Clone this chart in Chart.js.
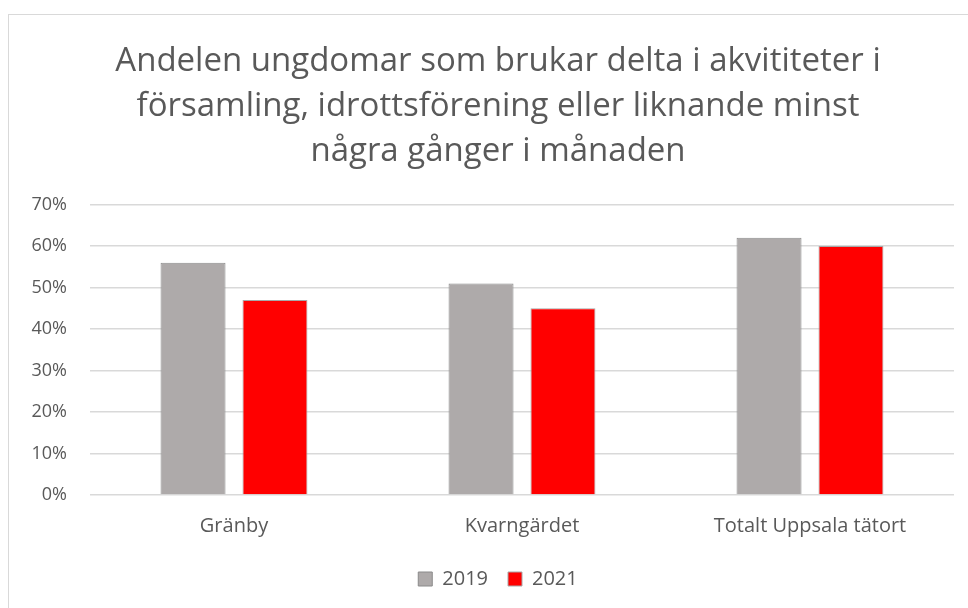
<!DOCTYPE html>
<html>
<head>
<meta charset="utf-8">
<script src="https://cdn.jsdelivr.net/npm/chart.js@4"></script>
<style>
  body { margin: 0; background: #fff; }
  #wrap { position: relative; width: 968px; height: 608px; }
  #frame { position: absolute; left: 8px; top: 14px; width: 980px; height: 620px;
           border: 1.5px solid #d9d9d9; pointer-events: none; }
</style>
</head>
<body>
<div id="wrap">
  <canvas id="chart"></canvas>
  <div id="frame"></div>
</div>
<script>
"use strict";

// data
const categories = ["Gränby", "Kvarngärdet", "Totalt Uppsala tätort"];
const values2019 = [56, 51, 62];
const values2021 = [47, 45, 60];
const yTicks = [0, 10, 20, 30, 40, 50, 60, 70];

const textColor = "#595959";
const fontFamily = "'Open Sans', 'Noto Sans', sans-serif";

new Chart(document.querySelector("#chart"), {
  type: "bar",
  data: {
    labels: categories,
    datasets: [{
      label: "2019",
      data: values2019,
      backgroundColor: "#AEAAAA",
      borderColor: "#8a8a8a",
      borderWidth: 1,
      categoryPercentage: 0.569,
      barPercentage: 0.793
    }, {
      label: "2021",
      data: values2021,
      backgroundColor: "#FF0000",
      borderColor: "#a8a8a8",
      borderWidth: 1,
      categoryPercentage: 0.569,
      barPercentage: 0.793
    }]
  },
  options: {
    responsive: true,
    maintainAspectRatio: false,
    animation: false,
    layout: { padding: { left: 28, right: 0, top: 39, bottom: 9 } },
    plugins: {
      title: {
        display: true,
        text: [
          "Andelen ungdomar som brukar delta i akvititeter i",
          "församling, idrottsförening eller liknande minst",
          "några gånger i månaden"
        ],
        color: textColor,
        font: { family: fontFamily, size: 33, weight: "normal", lineHeight: 1.37 },
        padding: { top: 0, bottom: 30 }
      },
      legend: {
        position: "bottom",
        labels: {
          color: textColor,
          font: { family: fontFamily, size: 20 },
          boxWidth: 14,
          boxHeight: 14,
          padding: 20
        }
      },
      tooltip: { enabled: false }
    },
    scales: {
      x: {
        grid: { display: false },
        border: { display: false },
        ticks: { color: textColor, font: { family: fontFamily, size: 20 }, padding: 11 }
      },
      y: {
        min: 0,
        max: 70,
        afterBuildTicks: axis => { axis.ticks = yTicks.map(v => ({ value: v })); },
        afterFit: axis => { axis.width = 62; },
        grid: { color: "#d9d9d9", lineWidth: 1.5, drawTicks: false },
        border: { display: false },
        ticks: {
          color: textColor,
          font: { family: fontFamily, size: 18 },
          padding: 23,
          callback: v => v + "%"
        }
      },
      // empty right axis, only keeps a margin on the right
      yRight: {
        position: "right",
        grid: { display: false },
        border: { display: false },
        ticks: { display: false },
        afterFit: axis => { axis.width = 14; }
      }
    }
  }
});
</script>
</body>
</html>
